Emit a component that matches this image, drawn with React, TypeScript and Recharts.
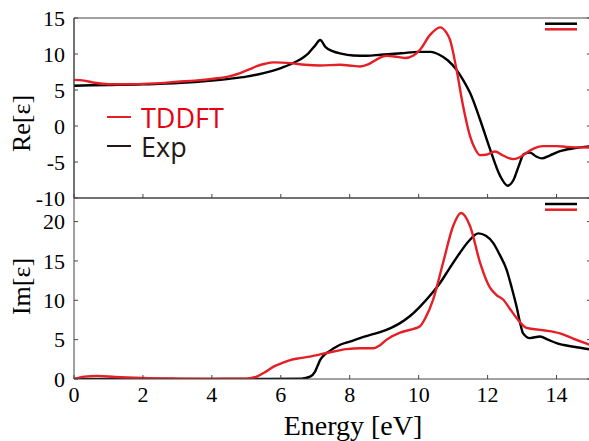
import { LineChart, Line, XAxis, YAxis, ReferenceArea } from 'recharts';

// energies (eV) and values
const reExpE = [0, 0.5, 1, 1.5, 2, 2.5, 3, 3.5, 4, 4.5, 5, 5.5, 6, 6.45, 6.8, 7, 7.14, 7.3, 7.5, 7.75, 8.1, 8.5, 8.9, 9.5, 10, 10.35, 10.6, 10.85, 11.1, 11.3, 11.5, 11.78, 12.07, 12.36, 12.58, 12.75, 12.9, 13.05, 13.23, 13.4, 13.57, 13.8, 14.1, 14.5, 15];
const reExpV = [5.6, 5.65, 5.7, 5.72, 5.78, 5.85, 5.95, 6.1, 6.3, 6.55, 6.85, 7.35, 8.05, 8.95, 10.1, 11.2, 11.95, 10.95, 10.4, 10.05, 9.8, 9.75, 9.9, 10.1, 10.3, 10.3, 9.9, 9.1, 7.8, 6.3, 4.5, 0.9, -3.2, -6.9, -8.3, -7.5, -5.6, -3.9, -3.7, -4.2, -4.5, -4.1, -3.5, -3.1, -2.8];

const reTdE = [0, 0.3, 0.6, 1, 1.5, 2, 2.5, 3, 3.5, 4.05, 4.5, 4.82, 5.1, 5.3, 5.55, 5.8, 6.27, 6.7, 7.14, 7.72, 8.1, 8.3, 8.55, 8.8, 9.07, 9.3, 9.6, 9.85, 10.04, 10.33, 10.62, 10.8, 10.91, 11.1, 11.29, 11.49, 11.65, 11.78, 11.95, 12.21, 12.45, 12.74, 12.95, 13.13, 13.35, 13.61, 14, 14.29, 15];
const reTdV = [6.4, 6.3, 6.0, 5.8, 5.8, 5.85, 5.95, 6.15, 6.3, 6.57, 6.9, 7.36, 7.9, 8.3, 8.65, 8.83, 8.74, 8.5, 8.4, 8.5, 8.35, 8.27, 8.6, 9.3, 9.75, 9.65, 9.45, 9.8, 10.6, 12.65, 13.7, 13.0, 11.96, 7.8, 2.75, -1.4, -3.3, -4.05, -4.0, -3.55, -4.1, -4.6, -4.3, -3.7, -3.1, -2.8, -2.8, -2.9, -3.0];

const imExpE = [0, 5, 6.6, 6.85, 6.99, 7.07, 7.14, 7.25, 7.33, 7.5, 7.72, 8, 8.3, 8.6, 8.88, 9.2, 9.46, 9.75, 10.04, 10.33, 10.62, 10.9, 11.2, 11.45, 11.73, 11.95, 12.16, 12.35, 12.55, 12.7, 12.84, 12.95, 13.03, 13.23, 13.52, 13.75, 14, 14.5, 15];
const imExpV = [0, 0, 0.05, 0.3, 0.9, 1.7, 2.4, 3.0, 3.3, 3.8, 4.35, 4.75, 5.2, 5.6, 5.95, 6.5, 7.1, 8.0, 9.2, 10.6, 12.2, 14.1, 16.05, 17.5, 18.5, 18.2, 17.3, 15.8, 13.9, 11.6, 9.2, 7.0, 5.8, 5.2, 5.4, 5.0, 4.55, 4.1, 3.75];

const imTdE = [0, 0.3, 0.67, 1.2, 2, 3, 4, 5, 5.3, 5.55, 5.79, 6, 6.27, 6.55, 6.85, 7.33, 7.91, 8.3, 8.68, 8.88, 9.07, 9.46, 9.8, 10.04, 10.2, 10.42, 10.71, 11, 11.23, 11.49, 11.78, 12.07, 12.25, 12.45, 12.65, 12.84, 13.13, 13.61, 14.1, 14.5, 15];
const imTdV = [0, 0.3, 0.4, 0.25, 0.12, 0.05, 0.02, 0.05, 0.3, 0.9, 1.57, 1.95, 2.4, 2.65, 2.85, 3.3, 3.8, 3.9, 3.9, 4.3, 5.0, 5.9, 6.3, 6.7, 7.8, 10.1, 14.8, 19.45, 21.1, 19.45, 14.8, 11.6, 10.7, 10.1, 8.9, 7.75, 6.5, 6.2, 5.8, 5.1, 4.3];

const xTicks = [0, 2, 4, 6, 8, 10, 12, 14];
const reTicks = [-10, -5, 0, 5, 10, 15];
const imTicks = [0, 5, 10, 15, 20];

const toRows = (es: number[], vs: number[]) => es.map((e, i) => ({ e, v: vs[i] }));

const RED = '#e41f26';
const FRAME = '#444';
const serif = '"Liberation Serif", "Times New Roman", serif';
const tickFont = { fontFamily: serif, fontSize: 22, fill: '#000' };
const blank = () => '';

const W = 600;

export default function App() {
  return (
    <div style={{ position: 'absolute', left: 0, top: 0, width: 589, height: 441, overflow: 'hidden', background: '#fff' }}>
      {/* Re panel */}
      <div style={{ position: 'absolute', left: 0, top: 0 }}>
        <LineChart width={W} height={220} margin={{ top: 18, right: 8, left: 0, bottom: 0 }}>
          <XAxis dataKey="e" type="number" domain={[0, 15]} ticks={xTicks} allowDataOverflow height={22}
            tickSize={-4} tickFormatter={blank} stroke={FRAME} interval={0} />
          <XAxis xAxisId="top" orientation="top" dataKey="e" type="number" domain={[0, 15]} ticks={xTicks}
            allowDataOverflow height={0} tickSize={-4} tickFormatter={blank} stroke={FRAME} interval={0} />
          <YAxis type="number" domain={[-10, 15]} ticks={reTicks} allowDataOverflow width={74}
            tickSize={-4} tickMargin={13} tick={tickFont} stroke={FRAME} interval={0} />
          <YAxis yAxisId="right" orientation="right" type="number" domain={[-10, 15]} ticks={reTicks}
            allowDataOverflow width={1} tickSize={-4} tickFormatter={blank} stroke={FRAME} interval={0} />
          <ReferenceArea x1={0} x2={15} y1={-10} y2={15} fill="none" stroke={FRAME} />
          <Line data={toRows(reExpE, reExpV)} dataKey="v" type="monotone" stroke="#000" strokeWidth={2.4}
            dot={false} isAnimationActive={false} />
          <Line data={toRows(reTdE, reTdV)} dataKey="v" type="monotone" stroke={RED} strokeWidth={2.4}
            dot={false} isAnimationActive={false} />
        </LineChart>
      </div>

      {/* Im panel */}
      <div style={{ position: 'absolute', left: 0, top: 180 }}>
        <LineChart width={W} height={261} margin={{ top: 18, right: 8, left: 0, bottom: 0 }}>
          <XAxis dataKey="e" type="number" domain={[0, 15]} ticks={xTicks} allowDataOverflow height={62}
            tickSize={-4} tickMargin={11} tick={tickFont} stroke={FRAME} interval={0} />
          <XAxis xAxisId="top" orientation="top" dataKey="e" type="number" domain={[0, 15]} ticks={xTicks}
            allowDataOverflow height={0} tickSize={-4} tickFormatter={blank} stroke={FRAME} interval={0} />
          <YAxis type="number" domain={[0, 23]} ticks={imTicks} allowDataOverflow width={74}
            tickSize={-4} tickMargin={13} tick={tickFont} stroke={FRAME} interval={0} />
          <YAxis yAxisId="right" orientation="right" type="number" domain={[0, 23]} ticks={imTicks}
            allowDataOverflow width={1} tickSize={-4} tickFormatter={blank} stroke={FRAME} interval={0} />
          <Line data={toRows(imExpE, imExpV)} dataKey="v" type="monotone" stroke="#000" strokeWidth={2.4}
            dot={false} isAnimationActive={false} />
          <Line data={toRows(imTdE, imTdV)} dataKey="v" type="monotone" stroke={RED} strokeWidth={2.4}
            dot={false} isAnimationActive={false} />
        </LineChart>
      </div>

      {/* titles and legend */}
      <svg width={589} height={441} style={{ position: 'absolute', left: 0, top: 0, pointerEvents: 'none' }}>
        <text transform="translate(30,123.5) rotate(-90)" textAnchor="middle" fontFamily={serif} fontSize={26}>Re[ε]</text>
        <text transform="translate(30,286.5) rotate(-90)" textAnchor="middle" fontFamily={serif} fontSize={26}>Im[ε]</text>
        <text x={353} y={435} textAnchor="middle" fontFamily={serif} fontSize={28}>Energy [eV]</text>

        <line x1={107} x2={131} y1={117} y2={117} stroke={RED} strokeWidth={2} />
        <text x={141} y={128} fontFamily='"Open Sans", sans-serif' fontSize={27} fill="#e60012">TDDFT</text>
        <line x1={107} x2={131} y1={146} y2={146} stroke="#231815" strokeWidth={2} />
        <text x={141} y={157} fontFamily='"Open Sans", sans-serif' fontSize={27} fill="#231815">Exp</text>

        <line x1={545} x2={577} y1={23.7} y2={23.7} stroke="#000" strokeWidth={2.5} />
        <line x1={545} x2={577} y1={29.3} y2={29.3} stroke={RED} strokeWidth={2.5} />
        <line x1={545} x2={577} y1={204} y2={204} stroke="#000" strokeWidth={2.5} />
        <line x1={545} x2={577} y1={209.7} y2={209.7} stroke={RED} strokeWidth={2.5} />
      </svg>
    </div>
  );
}
